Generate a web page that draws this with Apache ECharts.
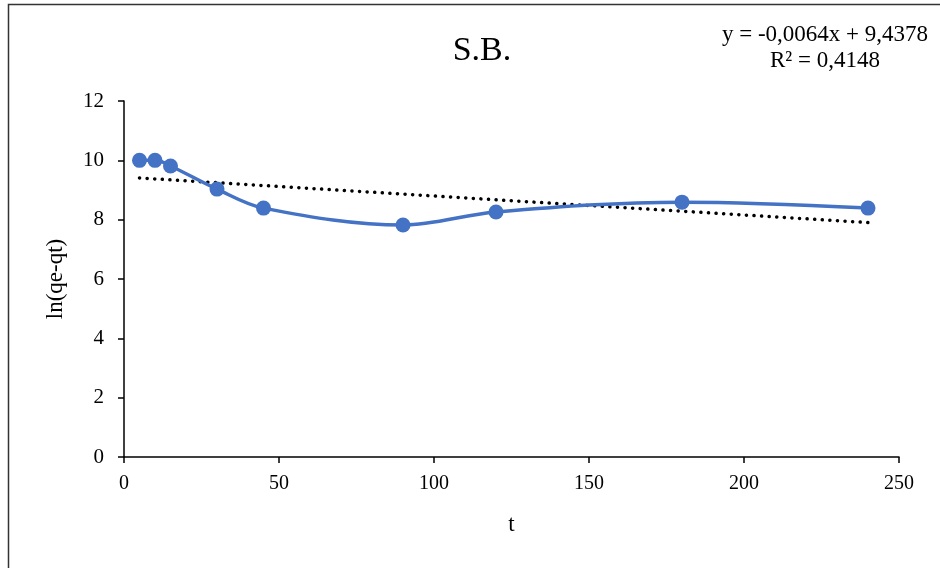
<!DOCTYPE html>
<html>
<head>
<meta charset="utf-8">
<script src="https://cdn.jsdelivr.net/npm/echarts@6/dist/echarts.min.js"></script>
<style>
  html, body { margin: 0; padding: 0; background: #fff; }
  #chart { width: 940px; height: 568px; }
</style>
</head>
<body>
<div id="chart"></div>
<script>
// measured data (time t, ln(qe-qt))
const tValues = [5, 10, 15, 30, 45, 90, 120, 180, 240];
const lnValues = [10.0, 10.0, 9.81, 9.03, 8.39, 7.82, 8.26, 8.59, 8.39];

// linear trend line shown in the chart
const trendSlope = -0.0064;
const trendIntercept = 9.4378;
const trendLabel = ["y = -0,0064x + 9,4378", "R² = 0,4148"];

const points = tValues.map((t, i) => [t, lnValues[i]]);
const tMin = tValues[0];
const tMax = tValues[tValues.length - 1];
const trend = [
  [tMin, trendIntercept + trendSlope * tMin],
  [tMax, trendIntercept + trendSlope * tMax]
];

const font = "'Liberation Serif', 'Times New Roman', serif";
var myChart = echarts.init(document.getElementById("chart"));

myChart.setOption({
  animation: false,
  title: {
    text: "S.B.",
    left: 477,
    top: 29,
    textAlign: "center",
    textStyle: { fontFamily: font, fontSize: 34, fontWeight: "normal", color: "#000" }
  },
  graphic: [
    {
      type: "rect",
      shape: { x: 8.5, y: 4.5, width: 1000, height: 1000 },
      style: { fill: "none", stroke: "#333", lineWidth: 1.5 }
    },
    {
      type: "text",
      x: 825,
      y: 22,
      style: {
        text: trendLabel.join("\n"),
        align: "center",
        fontFamily: font,
        fontSize: 23,
        lineHeight: 26,
        fill: "#000"
      }
    }
  ],
  grid: { left: 124, right: 41, top: 101, bottom: 111 },
  xAxis: {
    type: "value",
    min: 0,
    max: 250,
    interval: 50,
    name: "t",
    nameLocation: "middle",
    nameGap: 56,
    nameTextStyle: { fontFamily: font, fontSize: 23, color: "#000" },
    axisLine: { show: true, lineStyle: { color: "#000", width: 1.5 } },
    axisTick: { show: true, length: 6, lineStyle: { color: "#000", width: 1.5 } },
    axisLabel: { fontFamily: font, fontSize: 20, color: "#000", margin: 17 },
    splitLine: { show: false }
  },
  yAxis: {
    type: "value",
    min: 0,
    max: 12,
    interval: 2,
    name: "ln(qe-qt)",
    nameLocation: "middle",
    nameGap: 57,
    nameRotate: 90,
    nameTextStyle: { fontFamily: font, fontSize: 23, color: "#000" },
    axisLine: { show: true, lineStyle: { color: "#000", width: 1.5 } },
    axisTick: { show: true, length: 6, lineStyle: { color: "#000", width: 1.5 } },
    axisLabel: { fontFamily: font, fontSize: 21, color: "#000", margin: 20 },
    splitLine: { show: false }
  },
  series: [
    {
      type: "line",
      data: trend,
      symbol: "none",
      lineStyle: { color: "#000", width: 3.5, type: [0.1, 7.5], cap: "round" },
      z: 1
    },
    {
      type: "line",
      data: points,
      smooth: 0.35,
      symbol: "circle",
      symbolSize: 15,
      itemStyle: { color: "#4472C4" },
      lineStyle: { color: "#4472C4", width: 3.5 },
      z: 2
    }
  ]
});
</script>
</body>
</html>
